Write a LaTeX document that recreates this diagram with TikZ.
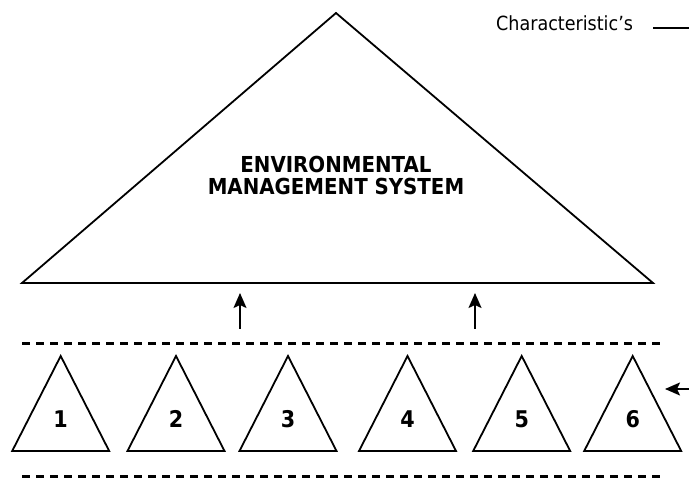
\documentclass[tikz,border=0pt]{standalone}
\usepackage{fontspec}
\setmainfont{DejaVu Sans}[FakeStretch=0.9]
\usetikzlibrary{arrows.meta,positioning}

\begin{document}
\begin{tikzpicture}[
    x=1pt, y=-1pt,
    tri/.style={draw, line width=1.8pt, line join=miter},
    title/.style={align=center, inner sep=0pt, font=\bfseries\fontsize{22}{22}\selectfont},
    num/.style={inner sep=0pt, font=\bfseries\fontsize{23}{26}\selectfont},
    note/.style={inner sep=0pt, anchor=base west, font=\fontsize{19.5}{22}\selectfont},
    layer/.style={line width=3pt, dash pattern=on 8pt off 6pt},
    flow/.style={line width=1.8pt, arrows={-Stealth[length=15pt, width=13pt, inset=3pt]}}
  ]
    \useasboundingbox (0,0) rectangle (689,481);

    % top triangle
    \draw[tri] (336,13) -- (653,283) -- (22,283) -- cycle;
    \node[title] (ems) at (336,175) {ENVIRONMENTAL\\MANAGEMENT SYSTEM};

    \node[note] (chr) at (496,31) {Characteristic’s};
    \coordinate (cl) at (653,28);
    \coordinate (cr) at (689,28);
    \draw[line width=1.8pt] (cl) -- (cr);

    % arrows up
    \coordinate (a1) at (240,329);
    \coordinate (b1) at (240,293);
    \coordinate (a2) at (475,329);
    \coordinate (b2) at (475,293);
    \draw[flow] (a1) -- (b1);
    \draw[flow] (a2) -- (b2);

    % dashed band
    \coordinate (t1) at (22,344);
    \coordinate (t2) at (665,344);
    \coordinate (u1) at (22,476);
    \coordinate (u2) at (665,476);
    \draw[layer] (t1) -- (t2);
    \draw[layer] (u1) -- (u2);

    % small triangles
    \foreach \x/\n in {60.7/1, 176/2, 288/3, 407.5/4, 521.7/5, 632.7/6} {
      \draw[tri] (\x,356) -- (\x+48.5,451) -- (\x-48.5,451) -- cycle;
      \node[num] (n\n) at (\x,419) {\n};
    }

    \coordinate (ri) at (689,389);
    \coordinate (rt) at (665,389);
    \draw[flow] (ri) -- (rt);
  \end{tikzpicture}
\end{document}
